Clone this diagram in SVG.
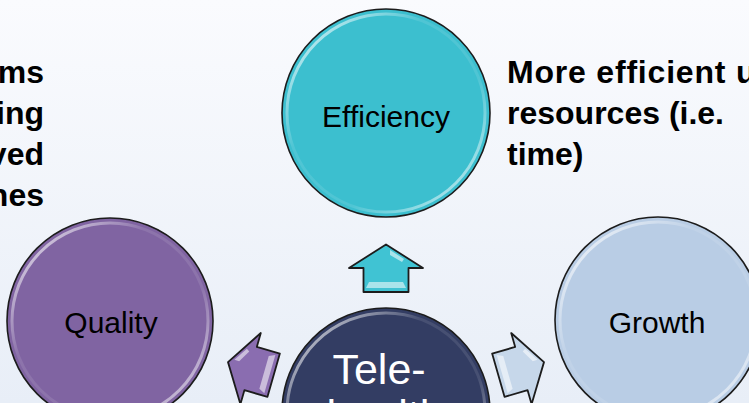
<svg xmlns="http://www.w3.org/2000/svg" width="749" height="403" viewBox="0 0 749 403">
  <defs>
    <linearGradient id="bg" x1="0" y1="0" x2="0" y2="1">
      <stop offset="0" stop-color="#fafbfe"/>
      <stop offset="1" stop-color="#e8eef7"/>
    </linearGradient>
    <linearGradient id="rim" x1="0" y1="0" x2="1" y2="1">
      <stop offset="0" stop-color="#ffffff" stop-opacity="0.9"/>
      <stop offset="0.35" stop-color="#ffffff" stop-opacity="0.1"/>
      <stop offset="0.65" stop-color="#ffffff" stop-opacity="0.1"/>
      <stop offset="1" stop-color="#ffffff" stop-opacity="0.8"/>
    </linearGradient>
    <path id="arrow" d="M0,-23.5 L37,0 L22.5,0 L22.5,24 L-22.5,24 L-22.5,0 L-37,0 Z"/>
  </defs>
  <style>
    .node { stroke: #1c1c1c; stroke-width: 1.6; }
    .rim { fill: none; stroke: url(#rim); stroke-width: 3; }
    .lbl { font-family: "Liberation Sans", Arial, sans-serif; font-size: 30px; fill: #000; text-anchor: middle; }
    .note { font-family: "Liberation Sans", Arial, sans-serif; font-size: 32px; font-weight: bold; fill: #000; }
    .arr { stroke: #1c1c1c; stroke-width: 1.8; stroke-linejoin: round; }
    .hl { fill: #ffffff; fill-opacity: 0.55; }
  </style>
  <rect x="0" y="0" width="749" height="403" fill="url(#bg)"/>

  <g id="note-left" class="note" text-anchor="end">
    <text x="44" y="83">ms</text>
    <text x="44" y="124">ing</text>
    <text x="44" y="165">ved</text>
    <text x="44" y="206">nes</text>
  </g>
  <g id="note-right" class="note">
    <text x="507" y="83" letter-spacing="0.8">More efficient u</text>
    <text x="507" y="124">resources (i.e.</text>
    <text x="507" y="165">time)</text>
  </g>

  <g id="efficiency">
    <circle class="node" cx="386" cy="113" r="104" fill="#3cbfcf"/>
    <circle class="rim" cx="386" cy="113" r="99"/>
    <text class="lbl" x="386" y="127">Efficiency</text>
  </g>
  <g id="quality">
    <circle class="node" cx="110" cy="321" r="103" fill="#8064a2"/>
    <circle class="rim" cx="110" cy="321" r="98"/>
    <text class="lbl" x="111" y="333">Quality</text>
  </g>
  <g id="growth">
    <circle class="node" cx="658" cy="320" r="103" fill="#b9cde5"/>
    <circle class="rim" cx="658" cy="320" r="98"/>
    <text class="lbl" x="657" y="333">Growth</text>
  </g>
  <g id="telehealth">
    <circle class="node" cx="386" cy="412" r="104" fill="#333d63"/>
    <circle class="rim" cx="386" cy="412" r="99"/>
    <text font-family="Liberation Sans, Arial, sans-serif" font-size="43" fill="#ffffff" text-anchor="middle">
      <tspan x="385" y="384">Tele-</tspan>
      <tspan x="385" y="430">health</tspan>
    </text>
  </g>

  <g id="connectors">
    <g transform="translate(386,268)">
      <use href="#arrow" class="arr" fill="#40c3d3"/>
      <path class="hl" d="M-17,14 L17,14 L20,20 L-20,20 Z"/>
      <path class="hl" d="M4,-18 L18,-9 L16,-6 L4,-13 Z"/>
    </g>
    <g transform="translate(250.6,368.6) rotate(-74)">
      <use href="#arrow" class="arr" fill="#8a6db0"/>
      <path class="hl" d="M-17,14 L17,14 L20,20 L-20,20 Z"/>
      <path class="hl" d="M4,-18 L18,-9 L16,-6 L4,-13 Z"/>
    </g>
    <g transform="translate(521.4,368.6) rotate(74)">
      <use href="#arrow" class="arr" fill="#c6d7ea"/>
      <path class="hl" d="M-17,14 L17,14 L20,20 L-20,20 Z"/>
      <path class="hl" d="M-4,-18 L-18,-9 L-16,-6 L-4,-13 Z"/>
    </g>
  </g>
</svg>
